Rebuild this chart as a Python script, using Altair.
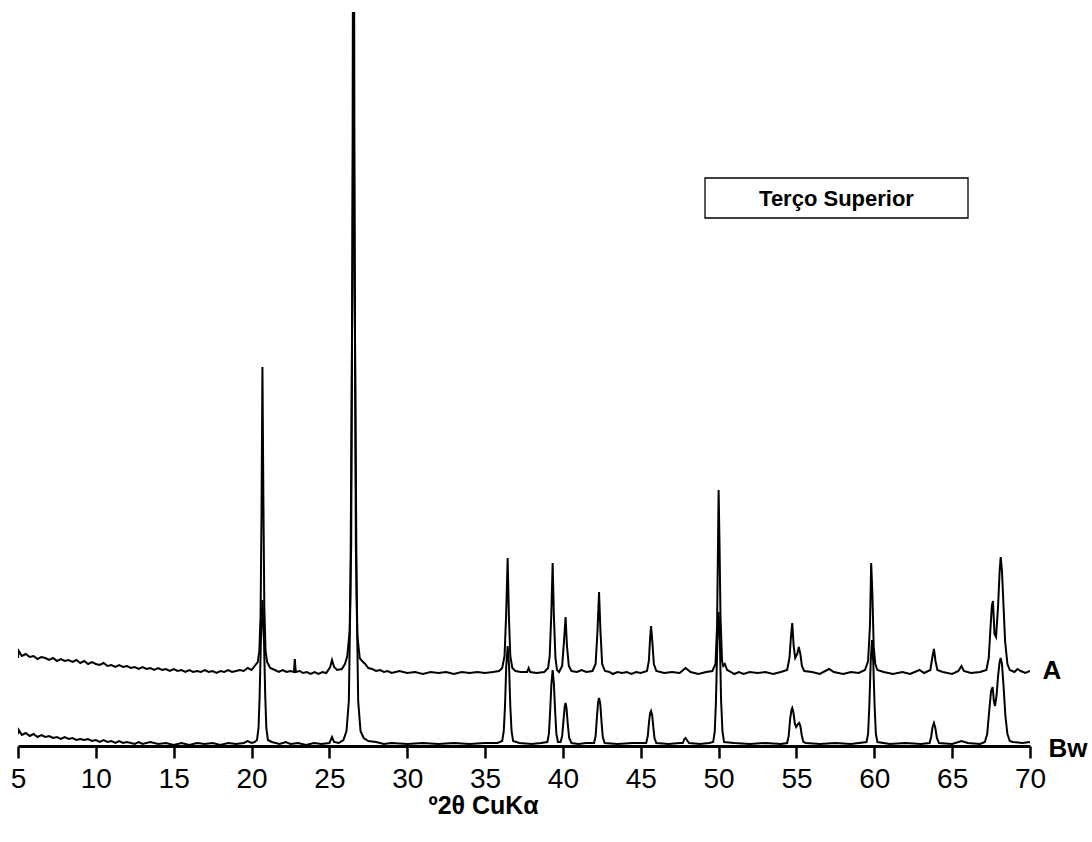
import altair as alt
import pandas as pd

# ---- values (2θ in degrees, intensity in arbitrary units) ----
trace_A = [
    (5.0, 88), (5.05, 95), (5.25, 90), (5.5, 92), (5.75, 89), (6.0, 90), (6.25, 87), (6.5, 89),
    (6.75, 88), (7.0, 86), (7.25, 88), (7.5, 85), (7.75, 87), (8.0, 85), (8.25, 86), (8.5, 84),
    (8.75, 86), (9.0, 83), (9.25, 85), (9.5, 82), (9.75, 84), (10.0, 82), (10.25, 81),
    (10.5, 83), (10.75, 80), (11.0, 81), (11.25, 79), (11.5, 81), (11.75, 79), (12.0, 80),
    (12.25, 78), (12.5, 79), (12.75, 77), (13.0, 79), (13.25, 77), (13.5, 78), (13.75, 76),
    (14.0, 78), (14.25, 76), (14.5, 77), (14.75, 75), (15.0, 77), (15.25, 75), (15.5, 76),
    (15.75, 74), (16.0, 76), (16.25, 74), (16.5, 75), (16.75, 74), (17.0, 76), (17.25, 74),
    (17.5, 75), (17.75, 73), (18.0, 75), (18.25, 74), (18.5, 76), (18.75, 74), (19.0, 75),
    (19.25, 76), (19.5, 75), (19.75, 78), (20.0, 76), (20.2, 80), (20.4, 84), (20.5, 95),
    (20.58, 130), (20.64, 230), (20.70, 379), (20.76, 250), (20.82, 140), (20.9, 95),
    (21.0, 84), (21.2, 78), (21.5, 76), (21.75, 74), (22.0, 76), (22.25, 74), (22.5, 75),
    (22.72, 74), (22.78, 87), (22.84, 74), (23.1, 75), (23.3, 73), (23.55, 74), (23.8, 72),
    (24.05, 74), (24.3, 72), (24.55, 74), (24.8, 73), (25.05, 79), (25.17, 86), (25.3, 79),
    (25.5, 76), (25.8, 77), (26.0, 82), (26.15, 90), (26.3, 115), (26.4, 200), (26.48, 500),
    (26.55, 1100), (26.62, 500), (26.7, 200), (26.8, 110), (26.95, 88), (27.1, 85),
    (27.3, 82), (27.5, 78), (27.75, 77), (28.0, 75), (28.25, 76), (28.5, 74), (28.75, 75),
    (29.0, 73), (29.5, 75), (30.0, 73), (30.5, 74), (31.0, 72), (31.5, 74), (32.0, 73),
    (32.5, 74), (33.0, 72), (33.5, 74), (34.0, 73), (34.5, 74), (35.0, 73), (35.5, 74),
    (35.9, 75), (36.1, 78), (36.25, 90), (36.35, 130), (36.45, 188), (36.53, 130),
    (36.62, 90), (36.75, 78), (36.95, 75), (37.3, 74), (37.7, 74), (37.8, 78), (37.9, 74),
    (38.3, 73), (38.8, 74), (39.05, 78), (39.15, 90), (39.25, 130), (39.34, 183),
    (39.42, 130), (39.52, 88), (39.62, 76), (39.75, 74), (39.95, 80), (40.07, 105),
    (40.17, 129), (40.26, 100), (40.38, 80), (40.55, 75), (40.9, 74), (41.2, 76), (41.5, 74),
    (41.9, 75), (42.1, 82), (42.22, 115), (42.32, 154), (42.41, 115), (42.52, 82), (42.7, 75),
    (43.0, 74), (43.2, 72), (43.5, 74), (43.8, 73), (44.1, 74), (44.4, 72), (44.7, 74),
    (45.0, 73), (45.4, 75), (45.52, 85), (45.6, 108), (45.66, 120), (45.74, 105), (45.84, 82),
    (46.0, 75), (46.5, 73), (47.0, 74), (47.5, 73), (47.88, 78), (48.2, 74), (48.7, 72),
    (49.2, 74), (49.6, 75), (49.8, 82), (49.9, 120), (49.96, 200), (50.0, 256), (50.06, 200),
    (50.12, 130), (50.22, 85), (50.3, 80), (50.4, 82), (50.55, 76), (50.8, 74), (51.0, 72),
    (51.3, 74), (51.6, 72), (52.0, 74), (52.5, 73), (53.0, 74), (53.5, 72), (54.0, 74),
    (54.4, 76), (54.55, 88), (54.65, 110), (54.73, 123), (54.82, 100), (54.92, 88),
    (55.05, 92), (55.15, 99), (55.25, 92), (55.35, 80), (55.5, 75), (56.0, 74), (56.5, 72),
    (57.09, 77), (57.4, 74), (58.0, 72), (58.5, 74), (59.0, 73), (59.4, 76), (59.6, 85),
    (59.72, 120), (59.8, 183), (59.88, 150), (59.96, 100), (60.06, 82), (60.2, 76),
    (60.6, 74), (61.2, 72), (61.8, 74), (62.3, 72), (62.9, 76), (63.2, 73), (63.6, 76),
    (63.72, 88), (63.83, 97), (63.93, 85), (64.05, 76), (64.4, 74), (65.0, 72), (65.4, 75),
    (65.6, 80), (65.75, 75), (66.2, 73), (66.8, 74), (67.2, 76), (67.35, 88), (67.45, 115),
    (67.55, 140), (67.62, 145), (67.72, 112), (67.82, 109), (67.95, 140), (68.05, 175),
    (68.12, 189), (68.2, 175), (68.3, 140), (68.4, 105), (68.55, 82), (68.7, 76), (69.0, 74),
    (69.2, 77), (69.4, 75), (69.7, 73), (70.0, 75),
]

trace_Bw = [
    (5.0, 12), (5.05, 16), (5.25, 11), (5.5, 13), (5.75, 10), (6.0, 12), (6.25, 9),
    (6.5, 11), (6.75, 9), (7.0, 10), (7.25, 8), (7.5, 9), (7.75, 7), (8.0, 9), (8.25, 7),
    (8.5, 8), (8.75, 6), (9.0, 7), (9.25, 6), (9.5, 7), (9.75, 5), (10.0, 6), (10.25, 4),
    (10.5, 6), (10.75, 4), (11.0, 5), (11.25, 3), (11.5, 5), (11.75, 3), (12.0, 4),
    (12.5, 2), (12.75, 4), (13.0, 2), (13.5, 4), (14.0, 2), (14.5, 3), (15.0, 1), (15.5, 3),
    (16.0, 1), (16.5, 3), (17.0, 2), (17.5, 3), (18.0, 1), (18.5, 3), (19.0, 2), (19.5, 3),
    (19.75, 5), (20.0, 3), (20.2, 4), (20.35, 6), (20.45, 18), (20.52, 50), (20.6, 105),
    (20.7, 146), (20.8, 105), (20.88, 50), (20.95, 18), (21.05, 6), (21.3, 4), (21.8, 2),
    (22.2, 4), (22.5, 2), (23.0, 3), (23.5, 1), (24.0, 3), (24.5, 2), (25.0, 3), (25.17, 9),
    (25.3, 4), (25.6, 3), (25.9, 6), (26.1, 15), (26.25, 45), (26.35, 150), (26.45, 400),
    (26.55, 700), (26.65, 400), (26.75, 150), (26.85, 45), (27.0, 15), (27.2, 8), (27.5, 5),
    (28.0, 4), (28.5, 2), (29.0, 3), (30.0, 2), (31.0, 3), (32.0, 2), (33.0, 3), (34.0, 2),
    (35.0, 3), (35.8, 3), (36.1, 5), (36.2, 15), (36.28, 40), (36.36, 80), (36.45, 100),
    (36.54, 80), (36.62, 40), (36.7, 15), (36.8, 5), (37.2, 3), (38.0, 2), (38.6, 3),
    (39.0, 4), (39.1, 12), (39.18, 35), (39.26, 62), (39.34, 76), (39.42, 62), (39.5, 35),
    (39.58, 12), (39.68, 4), (39.85, 4), (39.95, 10), (40.05, 28), (40.12, 40), (40.17, 43),
    (40.23, 38), (40.3, 24), (40.4, 8), (40.55, 3), (41.0, 2), (41.5, 3), (42.0, 3),
    (42.1, 10), (42.18, 28), (42.26, 44), (42.32, 48), (42.4, 42), (42.48, 24), (42.56, 9),
    (42.68, 3), (43.5, 2), (44.5, 3), (45.35, 3), (45.45, 10), (45.53, 24), (45.6, 33),
    (45.66, 35), (45.73, 31), (45.8, 20), (45.88, 8), (46.0, 3), (46.8, 2), (47.5, 3),
    (47.7, 3), (47.8, 7), (47.88, 8), (47.96, 6), (48.1, 3), (48.8, 2), (49.4, 3),
    (49.65, 4), (49.75, 14), (49.83, 45), (49.92, 105), (50.0, 134), (50.08, 105),
    (50.16, 45), (50.25, 14), (50.35, 4), (51.0, 3), (52.0, 2), (53.0, 3), (54.0, 2),
    (54.4, 3), (54.5, 10), (54.6, 28), (54.68, 36), (54.73, 38), (54.8, 34), (54.9, 22),
    (54.98, 19), (55.1, 22), (55.18, 23), (55.25, 20), (55.35, 10), (55.45, 4), (55.6, 3),
    (56.5, 2), (57.5, 3), (58.5, 2), (59.5, 4), (59.6, 12), (59.68, 40), (59.77, 85),
    (59.85, 106), (59.93, 85), (60.02, 40), (60.1, 12), (60.2, 4), (61.0, 2), (62.0, 3),
    (63.0, 2), (63.55, 3), (63.65, 9), (63.74, 19), (63.83, 23), (63.92, 18), (64.02, 8),
    (64.15, 3), (65.0, 2), (65.6, 5), (66.0, 3), (66.8, 2), (67.1, 4), (67.25, 12),
    (67.38, 35), (67.5, 55), (67.6, 59), (67.68, 45), (67.75, 40), (67.85, 50), (67.95, 70),
    (68.05, 84), (68.12, 88), (68.2, 82), (68.3, 60), (68.42, 30), (68.55, 12), (68.7, 5),
    (68.9, 4), (69.5, 3), (70.0, 4),
]

x_ticks = [5, 10, 15, 20, 25, 30, 35, 40, 45, 50, 55, 60, 65, 70]
series_names = ["A", "Bw"]
series_label_pos = [(1034, 667), (1050, 745)]   # label anchors (pixels in the plot area)
legend_title = "Terço Superior"
x_title = "º2θ CuKα"

# ---- build table ----
rows = []
for name, trace in zip(series_names, [trace_A, trace_Bw]):
    for tt, inten in trace:
        rows.append({"trace": name, "two_theta": tt, "intensity": inten})
df = pd.DataFrame(rows)

W, H = 1012, 734
FONT = "Liberation Sans"

x_scale = alt.Scale(domain=[5, 70], nice=False, zero=False)
y_scale = alt.Scale(domain=[0, 734], nice=False, zero=True)

lines = alt.Chart(df).mark_line(color="black", strokeWidth=2, clip=True).encode(
    x=alt.X("two_theta:Q", scale=x_scale,
            axis=alt.Axis(values=x_ticks, title=x_title, grid=False,
                          domainColor="black", domainWidth=3,
                          tickColor="black", tickWidth=2.5, tickSize=12,
                          labelFont=FONT, labelFontSize=28, labelColor="black",
                          labelPadding=7, labelFlush=False,
                          titleFont=FONT, titleFontSize=25, titleFontWeight="bold",
                          titleColor="black", titleAnchor="start",
                          titleX=410, titleY=67, titleBaseline="alphabetic",
                          titleAlign="left")),
    y=alt.Y("intensity:Q", scale=y_scale, axis=None),
    detail="trace:N",
    order="two_theta:Q",
)

lab_df = pd.DataFrame({"name": series_names,
                       "px": [p[0] for p in series_label_pos],
                       "py": [p[1] for p in series_label_pos]})
series_labels = alt.Chart(lab_df).mark_text(
    font=FONT, fontSize=26, fontWeight="bold", color="black",
    align="center", baseline="alphabetic"
).encode(
    x=alt.X("px:Q", scale=None),
    y=alt.Y("py:Q", scale=None),
    text="name:N",
)

box_df = pd.DataFrame({"label": [legend_title]})
box = alt.Chart(box_df).mark_rect(
    fill="white", stroke="black", strokeWidth=1.3
).encode(
    x=alt.value(687), x2=alt.value(950), y=alt.value(166), y2=alt.value(206)
)
box_text = alt.Chart(box_df).mark_text(
    font=FONT, fontSize=22, fontWeight="bold", color="black",
    align="center", baseline="middle"
).encode(
    x=alt.value(818.5), y=alt.value(187), text="label:N"
)

chart = alt.layer(lines, box, box_text, series_labels).properties(
    width=W, height=H,
    autosize=alt.AutoSizeParams(type="none"),
    padding={"left": 18, "top": 12, "right": 62, "bottom": 96},
    background="white",
).configure_view(strokeWidth=0)

chart.save("out.html", embed_options={"renderer": "svg", "actions": False})
